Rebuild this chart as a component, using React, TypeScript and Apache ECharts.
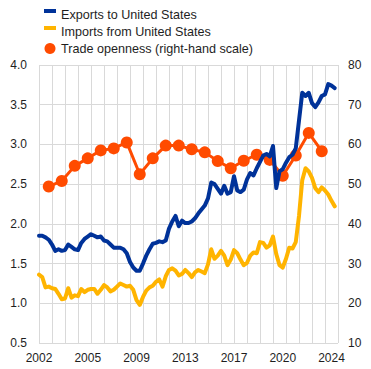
import React, { useEffect, useRef } from "react";
import * as echarts from "echarts";

// Quarterly categories 2002Q1 .. 2025Q1 (axis extends to start of 2025)
const quarters: string[] = [];
for (let y = 2002; y <= 2025; y++) {
  for (let q = 1; q <= 4; q++) {
    if (quarters.length < 93) quarters.push(`${y}Q${q}`);
  }
}

const exportsToUS: number[] = [
  1.85, 1.85, 1.83, 1.8, 1.74, 1.66, 1.68, 1.66, 1.67, 1.74,
  1.71, 1.68, 1.67, 1.76, 1.81, 1.84, 1.87, 1.85, 1.83, 1.84,
  1.79, 1.78, 1.74, 1.7, 1.7, 1.7, 1.68, 1.63, 1.52, 1.45,
  1.41, 1.41, 1.5, 1.6, 1.68, 1.75, 1.76, 1.78, 1.77, 1.79,
  1.94, 2.03, 2.1, 1.97, 2.04, 2.01, 2.01, 2.03, 2.07, 2.13,
  2.18, 2.23, 2.32, 2.52, 2.5, 2.44, 2.38, 2.48, 2.38, 2.4,
  2.6, 2.42, 2.4, 2.43, 2.56, 2.64, 2.61, 2.7, 2.78, 2.86,
  2.88, 2.85, 2.98, 2.45, 2.66, 2.69, 2.77, 2.84, 2.87, 2.95,
  3.3, 3.65, 3.61, 3.65, 3.52, 3.47, 3.53, 3.61, 3.63, 3.76,
  3.74, 3.71,
];

const importsFromUS: number[] = [
  1.36, 1.33, 1.2, 1.21, 1.19, 1.18, 1.12, 1.05, 1.06, 1.19,
  1.07, 1.1, 1.09, 1.18, 1.14, 1.17, 1.18, 1.18, 1.12, 1.17,
  1.23, 1.2, 1.15, 1.17, 1.21, 1.25, 1.23, 1.21, 1.22, 1.17,
  1.04, 0.98, 1.08, 1.16, 1.2, 1.22, 1.27, 1.3, 1.21, 1.34,
  1.42, 1.44, 1.41, 1.35, 1.37, 1.42, 1.38, 1.33, 1.39, 1.42,
  1.4, 1.38, 1.49, 1.68, 1.56, 1.6, 1.66, 1.6, 1.48, 1.55,
  1.67, 1.63, 1.55, 1.48, 1.51, 1.6, 1.64, 1.63, 1.77, 1.76,
  1.7, 1.73, 1.84, 1.62, 1.48, 1.45, 1.56, 1.7, 1.69, 1.77,
  2.1, 2.55, 2.7, 2.66, 2.58, 2.45, 2.4, 2.46, 2.42, 2.37,
  2.29, 2.22,
];

const opennessYears: number[] = [
  2002, 2003, 2004, 2005, 2006, 2007, 2008, 2009, 2010, 2011, 2012,
  2013, 2014, 2015, 2016, 2017, 2018, 2019, 2020, 2021, 2022, 2023,
];
const opennessValues: number[] = [
  49.4, 50.8, 54.6, 56.5, 58.5, 59.0, 60.5, 52.5, 56.5, 59.7, 59.7,
  58.8, 58.0, 55.8, 54.0, 55.9, 57.4, 56.1, 52.1, 57.2, 62.9, 58.3,
];

const leftTicks = { min: 0.5, max: 4.0, interval: 0.5 };
const rightTicks = { min: 10, max: 80, interval: 10 };

const BLUE = "#003299";
const YELLOW = "#ffb400";
const ORANGE = "#ff4b00";
const GRID = "#d9d9d9";
const TEXT = "#1e1e1e";
const FONT = "'Liberation Sans', Arial, Helvetica, sans-serif";

export default function App() {
  const ref = useRef<HTMLDivElement>(null);

  useEffect(() => {
    if (!ref.current) return;
    const chart = echarts.init(ref.current, undefined, { renderer: "svg" });
    const rectIcon = "path://M0 0h12v4H0zM0 10.99h0.01v0.01H0z";
    chart.setOption({
      animation: false,
      textStyle: { fontFamily: FONT },
      legend: {
        orient: "vertical",
        left: 39,
        top: 3,
        itemWidth: 12,
        itemHeight: 11,
        itemGap: 4,
        itemTextGap: 10,
        textStyle: { fontSize: 12.6, color: TEXT, fontFamily: FONT },
        data: [
          { name: "Exports to United States", icon: rectIcon },
          { name: "Imports from United States", icon: rectIcon },
          { name: "Trade openness (right-hand scale)", icon: "circle" },
        ],
      },
      grid: { left: 39, right: 33, top: 65, bottom: 26, containLabel: false },
      xAxis: {
        type: "category",
        data: quarters,
        boundaryGap: false,
        axisLine: { show: false },
        axisTick: { show: false },
        axisLabel: {
          interval: 14,
          margin: 9,
          fontSize: 12,
          color: TEXT,
          fontFamily: FONT,
          formatter: (v: string) => v.slice(0, 4),
        },
        splitLine: {
          show: true,
          interval: (i: number) => i % 4 === 0,
          lineStyle: { color: GRID, width: 1 },
        },
      },
      yAxis: [
        {
          type: "value",
          ...leftTicks,
          position: "left",
          axisLine: { show: false },
          axisTick: { show: false },
          axisLabel: {
            margin: 12,
            fontSize: 12,
            color: TEXT,
            fontFamily: FONT,
            formatter: (v: number) => v.toFixed(1),
          },
          splitLine: { show: true, lineStyle: { color: GRID, width: 1 } },
        },
        {
          type: "value",
          ...rightTicks,
          position: "right",
          axisLine: { show: false },
          axisTick: { show: false },
          axisLabel: { margin: 10, fontSize: 12, color: TEXT, fontFamily: FONT },
          splitLine: { show: false },
        },
      ],
      series: [
        {
          name: "Trade openness (right-hand scale)",
          type: "line",
          yAxisIndex: 1,
          data: opennessYears.map((y, i) => [`${y}Q4`, opennessValues[i]]),
          symbol: "circle",
          symbolSize: 12,
          showSymbol: true,
          showAllSymbol: true,
          lineStyle: { color: ORANGE, width: 3 },
          itemStyle: { color: ORANGE, borderWidth: 0 },
          z: 2,
        },
        {
          name: "Imports from United States",
          type: "line",
          data: importsFromUS,
          showSymbol: false,
          symbol: "none",
          lineStyle: { color: YELLOW, width: 4, join: "round", cap: "round" },
          itemStyle: { color: YELLOW },
          z: 3,
        },
        {
          name: "Exports to United States",
          type: "line",
          data: exportsToUS,
          showSymbol: false,
          symbol: "none",
          lineStyle: { color: BLUE, width: 4, join: "round", cap: "round" },
          itemStyle: { color: BLUE },
          z: 4,
        },
      ],
    });
    return () => chart.dispose();
  }, []);

  return (
    <div
      ref={ref}
      style={{ position: "fixed", left: 0, top: 0, width: 371, height: 369, background: "#ffffff" }}
    />
  );
}
